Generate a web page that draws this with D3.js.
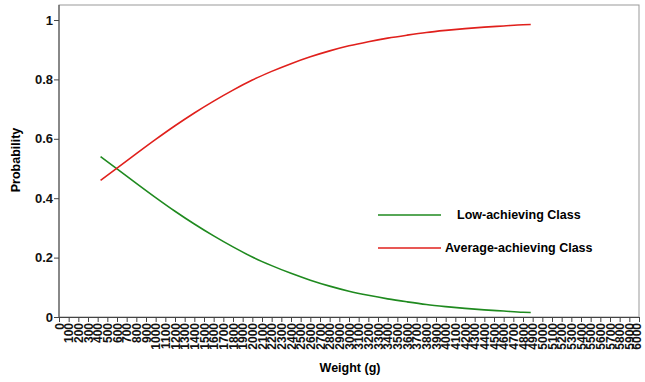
<!DOCTYPE html>
<html>
<head>
<meta charset="utf-8">
<script src="https://cdn.jsdelivr.net/npm/d3@7"></script>
<style>
  body { margin: 0; background: #fff; }
  text { font-family: Arial, "Liberation Sans", sans-serif; font-weight: bold; }
</style>
</head>
<body>
<div id="chart"></div>
<script>
// weight grid (g)
const weights = [430, 600, 800, 1000, 1200, 1400, 1600, 1800, 2000, 2200, 2400, 2600,
                 2800, 3000, 3200, 3400, 3600, 3800, 4000, 4200, 4400, 4600, 4800, 4880];
const lowClass = [0.540, 0.499, 0.450, 0.402, 0.356, 0.313, 0.273, 0.236, 0.202, 0.173, 0.147, 0.124,
                  0.104, 0.087, 0.073, 0.061, 0.051, 0.042, 0.035, 0.029, 0.024, 0.020, 0.016, 0.015];
const avgClass = [0.460, 0.501, 0.550, 0.598, 0.644, 0.687, 0.727, 0.764, 0.798, 0.827, 0.853, 0.876,
                  0.896, 0.913, 0.927, 0.939, 0.949, 0.958, 0.965, 0.971, 0.976, 0.980, 0.984, 0.985];
const xTicks = d3.range(0, 6001, 100);
const yTicks = [0, 0.2, 0.4, 0.6, 0.8, 1];
const seriesNames = ["Low-achieving Class", "Average-achieving Class"];

const width = 645, height = 382;
const plotL = 59, plotR = 639, plotT = 5, plotB = 317;

const svg = d3.select("#chart").append("svg")
    .attr("width", width)
    .attr("height", height);

const x = d3.scaleLinear().domain([0, 6000]).range([plotL, plotR]);
const y = d3.scaleLinear().domain([0, 1]).range([plotB, 20]);

// frame
svg.append("rect")
    .attr("x", plotL).attr("y", plotT)
    .attr("width", plotR - plotL).attr("height", plotB - plotT)
    .attr("fill", "none").attr("stroke", "#999").attr("stroke-width", 1);

// axes
const yAxis = svg.append("g")
    .attr("transform", "translate(" + plotL + ",0)")
    .call(d3.axisLeft(y).tickValues(yTicks).tickFormat(d3.format("~g")).tickSize(5).tickPadding(1));
yAxis.select(".domain").attr("stroke", "#444").attr("d", "M0," + plotT + "V" + plotB);
yAxis.selectAll("text").style("font-size", "13px").style("font-weight", "bold").attr("fill", "#111");
yAxis.selectAll("line").attr("stroke", "#444");

const xAxis = svg.append("g")
    .attr("transform", "translate(0," + plotB + ")")
    .call(d3.axisBottom(x).tickValues(xTicks).tickFormat(d3.format("d")).tickSize(5));
xAxis.select(".domain").attr("stroke", "#444");
xAxis.selectAll("line").attr("stroke", "#444");
xAxis.selectAll("text")
    .style("font-size", "12px").style("font-weight", "bold").attr("fill", "#111")
    .attr("text-anchor", "end")
    .attr("transform", "rotate(-90)")
    .attr("x", -6).attr("y", 0)
    .attr("dy", d => d === 6000 ? "0.1em" : "0.35em");

// axis titles
svg.append("text")
    .attr("x", 350).attr("y", 372)
    .attr("text-anchor", "middle")
    .style("font-size", "12.5px")
    .text("Weight (g)");
svg.append("text")
    .attr("transform", "translate(20,160) rotate(-90)")
    .attr("text-anchor", "middle")
    .style("font-size", "12.5px")
    .text("Probability");

// curves
const line = d3.line()
    .x(d => x(d[0]))
    .y(d => y(d[1]))
    .curve(d3.curveMonotoneX);

svg.append("path")
    .attr("d", line(weights.map((w, i) => [w, lowClass[i]])))
    .attr("fill", "none").attr("stroke", "#1f8a1f").attr("stroke-width", 1.6);
svg.append("path")
    .attr("d", line(weights.map((w, i) => [w, avgClass[i]])))
    .attr("fill", "none").attr("stroke", "#e0201c").attr("stroke-width", 1.6);

// legend
const legendColors = ["#1f8a1f", "#e0201c"];
const legendY = [215, 248];
const legendTextX = [457, 445];
seriesNames.forEach((name, i) => {
  svg.append("line")
      .attr("x1", 378).attr("x2", 441)
      .attr("y1", legendY[i]).attr("y2", legendY[i])
      .attr("stroke", legendColors[i]).attr("stroke-width", 1.6);
  svg.append("text")
      .attr("x", legendTextX[i]).attr("y", legendY[i] + 4)
      .style("font-size", "12.5px")
      .text(name);
});
</script>
</body>
</html>
